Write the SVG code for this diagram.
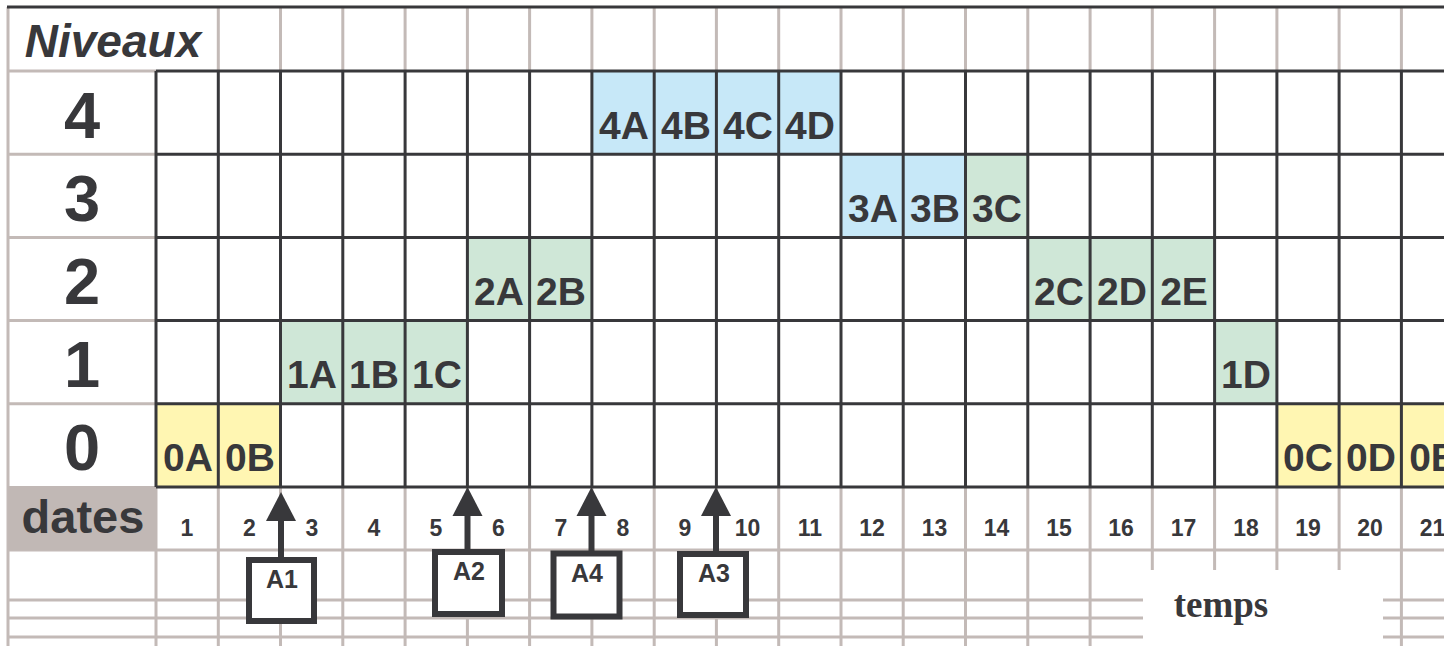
<svg xmlns="http://www.w3.org/2000/svg" width="1444" height="646" viewBox="0 0 1444 646">
<style>
.lt{stroke:#c3bab7;stroke-width:3;fill:none}
.dk{stroke:#38383b;stroke-width:3;fill:none}
.y{fill:#fff6b2}
.g{fill:#cfe7d7}
.b{fill:#c7e8f8}
.cl{font-family:"Liberation Sans",Arial,sans-serif;font-weight:bold;font-size:39px;fill:#38383b;text-anchor:middle}
.rl{font-family:"Liberation Sans",Arial,sans-serif;font-weight:bold;font-size:65px;fill:#38383b;text-anchor:middle}
.dt{font-family:"Liberation Sans",Arial,sans-serif;font-weight:bold;font-size:23px;fill:#38383b;text-anchor:middle}
.bx{fill:#fff;stroke:#38383b;stroke-width:6}
.bl{font-family:"Liberation Sans",Arial,sans-serif;font-weight:bold;font-size:25px;fill:#38383b;text-anchor:middle}
.ar{stroke:#38383b;stroke-width:6}
.ah{fill:#38383b}
</style>
<rect x="0" y="0" width="1444" height="646" fill="#fff"/>
<g id="background-lines">
<path class="lt" d="M8,7V646"/>
<path class="lt" d="M218.3,7V71M280.5,7V71M342.8,7V71M405.1,7V71M467.4,7V71M529.6,7V71M591.9,7V71M654.2,7V71M716.4,7V71M778.7,7V71M841,7V71M903.2,7V71M965.5,7V71M1027.8,7V71M1090.1,7V71M1152.3,7V71M1214.6,7V71M1276.9,7V71M1339.1,7V71M1401.4,7V71"/>
<path class="lt" d="M8,71H156M8,154.2H156M8,237.4H156M8,320.6H156M8,403.8H156"/>
<path class="lt" d="M156,487V646M218.3,487V646M280.5,487V646M342.8,487V646M405.1,487V646M467.4,487V646M529.6,487V646M591.9,487V646M654.2,487V646M716.4,487V646M778.7,487V646M841,487V646M903.2,487V646M965.5,487V646M1027.8,487V646M1090.1,487V646M1152.3,487V646M1214.6,487V646M1276.9,487V646M1339.1,487V646M1401.4,487V646"/>
<path class="lt" d="M8,550H1444M8,600H1444M8,618H1444M8,637H1444"/>
<rect x="1143" y="570" width="240" height="76" fill="#fff"/>
</g>
<g id="dates-label">
<rect x="8" y="486" width="149" height="64" fill="#c1b8b5"/>
<text x="83" y="533" font-family="Liberation Sans, Arial, sans-serif" font-weight="bold" font-size="47" fill="#38383b" text-anchor="middle">dates</text>
</g>
<g id="niveaux-label">
<text x="113" y="57" font-family="Liberation Sans, Arial, sans-serif" font-weight="bold" font-style="italic" font-size="46" fill="#38383b" text-anchor="middle">Niveaux</text>
</g>
<g id="level-labels">
<text class="rl" x="82" y="138">4</text>
<text class="rl" x="82" y="221">3</text>
<text class="rl" x="82" y="304">2</text>
<text class="rl" x="82" y="387">1</text>
<text class="rl" x="82" y="470">0</text>
</g>
<g id="cells-fill">
<rect class="y" x="156" y="403.8" width="62.3" height="83.2"/>
<rect class="y" x="218.3" y="403.8" width="62.2" height="83.2"/>
<rect class="g" x="280.5" y="320.6" width="62.3" height="83.2"/>
<rect class="g" x="342.8" y="320.6" width="62.3" height="83.2"/>
<rect class="g" x="405.1" y="320.6" width="62.3" height="83.2"/>
<rect class="g" x="467.4" y="237.4" width="62.2" height="83.2"/>
<rect class="g" x="529.6" y="237.4" width="62.3" height="83.2"/>
<rect class="b" x="591.9" y="71" width="62.3" height="83.2"/>
<rect class="b" x="654.2" y="71" width="62.2" height="83.2"/>
<rect class="b" x="716.4" y="71" width="62.3" height="83.2"/>
<rect class="b" x="778.7" y="71" width="62.3" height="83.2"/>
<rect class="b" x="841" y="154.2" width="62.2" height="83.2"/>
<rect class="b" x="903.2" y="154.2" width="62.3" height="83.2"/>
<rect class="g" x="965.5" y="154.2" width="62.3" height="83.2"/>
<rect class="g" x="1027.8" y="237.4" width="62.3" height="83.2"/>
<rect class="g" x="1090.1" y="237.4" width="62.2" height="83.2"/>
<rect class="g" x="1152.3" y="237.4" width="62.3" height="83.2"/>
<rect class="g" x="1214.6" y="320.6" width="62.3" height="83.2"/>
<rect class="y" x="1276.9" y="403.8" width="62.2" height="83.2"/>
<rect class="y" x="1339.1" y="403.8" width="62.3" height="83.2"/>
<rect class="y" x="1401.4" y="403.8" width="62.3" height="83.2"/>
</g>
<g id="grid">
<path class="dk" d="M156,71H1444M156,154.2H1444M156,237.4H1444M156,320.6H1444M156,403.8H1444M156,487H1444"/>
<path class="dk" d="M156,71V487M218.3,71V487M280.5,71V487M342.8,71V487M405.1,71V487M467.4,71V487M529.6,71V487M591.9,71V487M654.2,71V487M716.4,71V487M778.7,71V487M841,71V487M903.2,71V487M965.5,71V487M1027.8,71V487M1090.1,71V487M1152.3,71V487M1214.6,71V487M1276.9,71V487M1339.1,71V487M1401.4,71V487"/>
<path class="dk" d="M7,7H1444"/>
</g>
<g id="cell-labels">
<g id="n0A"><text class="cl" x="188" y="471">0A</text></g>
<g id="n0B"><text class="cl" x="250" y="471">0B</text></g>
<g id="n1A"><text class="cl" x="312" y="388">1A</text></g>
<g id="n1B"><text class="cl" x="374" y="388">1B</text></g>
<g id="n1C"><text class="cl" x="437" y="388">1C</text></g>
<g id="n2A"><text class="cl" x="499" y="305">2A</text></g>
<g id="n2B"><text class="cl" x="561" y="305">2B</text></g>
<g id="n4A"><text class="cl" x="624" y="139">4A</text></g>
<g id="n4B"><text class="cl" x="686" y="139">4B</text></g>
<g id="n4C"><text class="cl" x="748" y="139">4C</text></g>
<g id="n4D"><text class="cl" x="810" y="139">4D</text></g>
<g id="n3A"><text class="cl" x="873" y="222">3A</text></g>
<g id="n3B"><text class="cl" x="935" y="222">3B</text></g>
<g id="n3C"><text class="cl" x="997" y="222">3C</text></g>
<g id="n2C"><text class="cl" x="1059" y="305">2C</text></g>
<g id="n2D"><text class="cl" x="1122" y="305">2D</text></g>
<g id="n2E"><text class="cl" x="1184" y="305">2E</text></g>
<g id="n1D"><text class="cl" x="1246" y="388">1D</text></g>
<g id="n0C"><text class="cl" x="1308" y="471">0C</text></g>
<g id="n0D"><text class="cl" x="1371" y="471">0D</text></g>
<g id="n0E"><text class="cl" x="1433" y="471">0E</text></g>
</g>
<g id="date-numbers">
<text class="dt" x="187" y="536">1</text>
<text class="dt" x="249.5" y="536">2</text>
<text class="dt" x="312" y="536">3</text>
<text class="dt" x="374" y="536">4</text>
<text class="dt" x="436" y="536">5</text>
<text class="dt" x="498.5" y="536">6</text>
<text class="dt" x="561" y="536">7</text>
<text class="dt" x="623" y="536">8</text>
<text class="dt" x="685" y="536">9</text>
<text class="dt" x="747.5" y="536">10</text>
<text class="dt" x="810" y="536">11</text>
<text class="dt" x="872" y="536">12</text>
<text class="dt" x="934.5" y="536">13</text>
<text class="dt" x="996.5" y="536">14</text>
<text class="dt" x="1059" y="536">15</text>
<text class="dt" x="1121" y="536">16</text>
<text class="dt" x="1183.5" y="536">17</text>
<text class="dt" x="1246" y="536">18</text>
<text class="dt" x="1308" y="536">19</text>
<text class="dt" x="1370" y="536">20</text>
<text class="dt" x="1432.5" y="536">21</text>
</g>
<g id="connectors">
<line class="ar" x1="281" y1="520" x2="281" y2="558"/>
<polygon class="ah" points="281,492 266,521 296,521"/>
<line class="ar" x1="467.5" y1="515" x2="467.5" y2="550"/>
<polygon class="ah" points="467.5,487 452.5,516 482.5,516"/>
<line class="ar" x1="591.5" y1="515" x2="591.5" y2="551"/>
<polygon class="ah" points="591.5,487 576.5,516 606.5,516"/>
<line class="ar" x1="716" y1="515" x2="716" y2="552"/>
<polygon class="ah" points="716,487 701,516 731,516"/>
</g>
<g id="A1"><rect class="bx" x="249" y="560" width="65" height="61"/><text class="bl" x="282" y="588">A1</text></g>
<g id="A2"><rect class="bx" x="435" y="552" width="67" height="62"/><text class="bl" x="469" y="580">A2</text></g>
<g id="A4"><rect class="bx" x="553.5" y="553.5" width="66" height="63" stroke-width="7"/><text class="bl" x="587" y="582">A4</text></g>
<g id="A3"><rect class="bx" x="680" y="554" width="66" height="61"/><text class="bl" x="714" y="582">A3</text></g>
<g id="temps-label"><text x="1221" y="617" font-family="Liberation Serif, Times New Roman, serif" font-weight="bold" font-size="37" fill="#38383b" text-anchor="middle">temps</text></g>
</svg>
